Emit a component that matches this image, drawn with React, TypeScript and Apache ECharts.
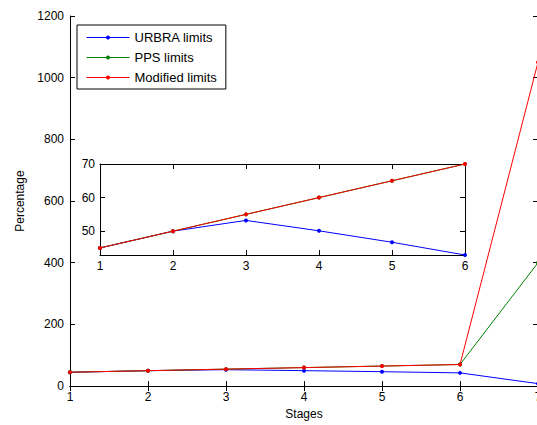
import React, { useEffect, useRef } from "react";
import * as echarts from "echarts";

const stages = [1, 2, 3, 4, 5, 6, 7];
const urbra = [45, 50, 53.2, 50.1, 46.7, 42.9, 8];
const pps = [45, 50, 55, 60, 65, 70, 400];
const modified = [45, 50, 55, 60, 65, 70, 1050];
const insetStages = [1, 2, 3, 4, 5, 6];
const insetYTicks = [50, 60, 70];
const seriesNames = ["URBRA limits", "PPS limits", "Modified limits"];
const colors = ["#0000ff", "#008000", "#ff0000"];

const FONT = "Liberation Sans";

function pairs(xs: number[], ys: number[]) {
  return xs.map((x, i) => [x, ys[i]]);
}

export default function App() {
  const ref = useRef<HTMLDivElement>(null);
  useEffect(() => {
    if (!ref.current) return;
    const chart = echarts.init(ref.current, null, { renderer: "svg" });
    const axisLine = { show: true, lineStyle: { color: "#000", width: 1 } };
    const tickIn = { show: true, inside: true, length: 5, lineStyle: { color: "#000" } };
    const label = {
      color: "#000",
      fontFamily: FONT,
      fontSize: 12,
      formatter: (v: number) => String(v),
    };
    const allData = [urbra, pps, modified];
    const mainSeries = allData.map((d, i) => ({
      name: seriesNames[i],
      type: "line",
      xAxisIndex: 0,
      yAxisIndex: 0,
      data: pairs(stages, d),
      symbol: "circle",
      symbolSize: 4,
      lineStyle: { color: colors[i], width: 1 },
      itemStyle: { color: colors[i] },
      z: 3 + i,
    }));
    const insetSeries = allData.map((d, i) => ({
      name: seriesNames[i],
      type: "line",
      xAxisIndex: 2,
      yAxisIndex: 2,
      data: pairs(insetStages, d.slice(0, 6)),
      symbol: "circle",
      symbolSize: 4,
      lineStyle: { color: colors[i], width: 1 },
      itemStyle: { color: colors[i] },
      z: 10 + i,
    }));
    chart.setOption({
      animation: false,
      backgroundColor: "#fff",
      textStyle: { fontFamily: FONT },
      grid: [
        { left: 70, right: 7, top: 16, bottom: 38, containLabel: false },
        {
          left: 100,
          right: 80,
          top: 164,
          bottom: 170,
          show: true,
          backgroundColor: "#fff",
          borderWidth: 0,
          z: 8,
        },
      ],
      legend: {
        orient: "vertical",
        left: 77,
        top: 25,
        data: seriesNames,
        backgroundColor: "#fff",
        borderColor: "#000",
        borderWidth: 1,
        borderRadius: 0,
        padding: [5, 9, 4, 9],
        itemWidth: 43,
        itemHeight: 5,
        itemGap: 5,
        lineStyle: { width: 1 },
        textStyle: { color: "#000", fontSize: 13, fontFamily: FONT, lineHeight: 15 },
        z: 20,
      },
      xAxis: [
        {
          type: "value",
          gridIndex: 0,
          min: 1,
          max: 7,
          interval: 1,
          axisLine,
          axisTick: tickIn,
          axisLabel: { ...label, margin: 5 },
          splitLine: { show: false },
          name: "Stages",
          nameLocation: "middle",
          nameGap: 20,
          nameTextStyle: { color: "#000", fontSize: 12, fontFamily: FONT },
        },
        {
          type: "value",
          gridIndex: 0,
          position: "top",
          min: 1,
          max: 7,
          interval: 1,
          axisLine,
          axisTick: tickIn,
          axisLabel: { show: false },
          splitLine: { show: false },
        },
        {
          type: "value",
          gridIndex: 1,
          min: 1,
          max: 6,
          interval: 1,
          axisLine,
          axisTick: tickIn,
          axisLabel: { ...label, margin: 5 },
          splitLine: { show: false },
          z: 9,
        },
        {
          type: "value",
          gridIndex: 1,
          position: "top",
          min: 1,
          max: 6,
          interval: 1,
          axisLine,
          axisTick: tickIn,
          axisLabel: { show: false },
          splitLine: { show: false },
          z: 9,
        },
      ],
      yAxis: [
        {
          type: "value",
          gridIndex: 0,
          min: 0,
          max: 1200,
          interval: 200,
          axisLine,
          axisTick: tickIn,
          axisLabel: { ...label, margin: 6 },
          splitLine: { show: false },
          name: "Percentage",
          nameLocation: "middle",
          nameGap: 42,
          nameTextStyle: { color: "#000", fontSize: 12, fontFamily: FONT },
        },
        {
          type: "value",
          gridIndex: 0,
          position: "right",
          min: 0,
          max: 1200,
          interval: 200,
          axisLine,
          axisTick: tickIn,
          axisLabel: { show: false },
          splitLine: { show: false },
        },
        {
          type: "value",
          gridIndex: 1,
          min: 42.9,
          max: 70,
          axisLine,
          axisTick: { ...tickIn, customValues: insetYTicks },
          axisLabel: { ...label, margin: 5, customValues: insetYTicks },
          splitLine: { show: false },
          z: 9,
        },
        {
          type: "value",
          gridIndex: 1,
          position: "right",
          min: 42.9,
          max: 70,
          axisLine,
          axisTick: { ...tickIn, customValues: insetYTicks },
          axisLabel: { show: false },
          splitLine: { show: false },
          z: 9,
        },
      ],
      series: [...mainSeries, ...insetSeries],
    });
    return () => chart.dispose();
  }, []);
  return (
    <div
      ref={ref}
      style={{ position: "fixed", left: 0, top: 0, width: 545, height: 425 }}
    />
  );
}
